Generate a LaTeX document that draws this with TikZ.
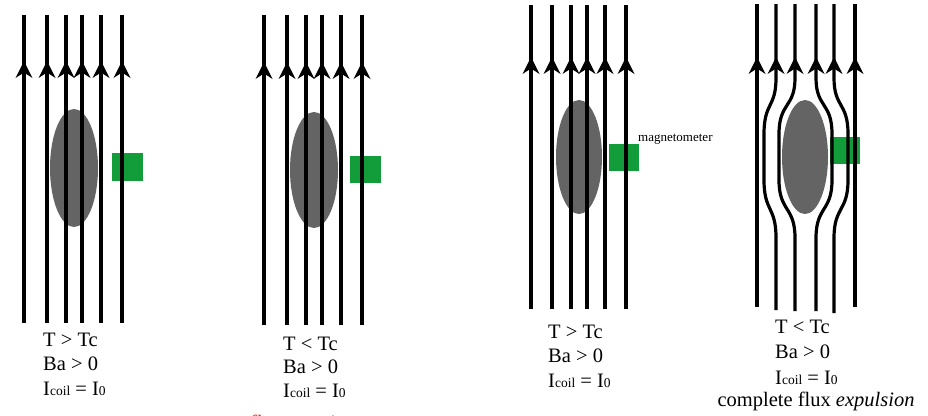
\documentclass[tikz,border=0pt]{standalone}
\usepackage{fontspec}
\setmainfont{Liberation Serif}
\definecolor{blob}{RGB}{100,100,100}
\definecolor{sensor}{RGB}{18,156,58}
\definecolor{redtxt}{RGB}{225,35,35}
\newcommand\fluxhead[2]{\fill[black] (#1,#2) -- ++(8.5,17) -- ++(-8.5,-5.5) -- ++(-8.5,5.5) -- cycle;}
\newcommand\subsm[1]{{\fontsize{13.5}{13.5}\selectfont\raisebox{-0.8pt}{#1}}}
\newcommand\Icoil{I\subsm{coil} = I\subsm{0}}
\begin{document}
\begin{tikzpicture}[x=1pt,y=-1pt,
  fieldline/.style={line width=3.2pt,black},
  lab/.style={anchor=base west,inner sep=0pt,font=\fontsize{20.5}{24}\selectfont}]
\useasboundingbox (0,0) rectangle (928,415);
\clip (0,0) rectangle (928,415);

% ---------- panel 1 ----------
\fill[blob] (74,168) ellipse [x radius=24, y radius=59];
\fill[sensor] (112,153) rectangle (143,181);
\foreach \x in {24,47,66,82,101,122} {
  \draw[fieldline] (\x,15) -- (\x,323);
  \fluxhead{\x}{61}
}
\node[lab] (p1a) at (43,346) {T > Tc};
\node[lab] (p1b) at (43,370) {Ba > 0};
\node[lab] (p1c) at (43,395) {\Icoil};

% ---------- panel 2 ----------
\fill[blob] (314,170) ellipse [x radius=24, y radius=58];
\fill[sensor] (350,156) rectangle (381,183);
\foreach \x in {264,287,306,322,341,362} {
  \draw[fieldline] (\x,15) -- (\x,325);
  \fluxhead{\x}{62}
}
\node[lab] (p2a) at (283,350) {T < Tc};
\node[lab] (p2b) at (283,373) {Ba > 0};
\node[lab] (p2c) at (283,397) {\Icoil};
\node[lab,text=redtxt] (p2d) at (250,429) {flux trapping};

% ---------- panel 3 ----------
\fill[blob] (579,157) ellipse [x radius=23, y radius=57];
\fill[sensor] (609,144) rectangle (639,171);
\foreach \x in {531,552,571,587,605,626} {
  \draw[fieldline] (\x,5) -- (\x,309);
  \fluxhead{\x}{57}
}
\node[anchor=west,inner sep=0pt,font=\fontsize{13}{13}\selectfont] (mag) at (638,139) {magnetometer};
\node[lab] (p3a) at (548,338) {T > Tc};
\node[lab] (p3b) at (548,362) {Ba > 0};
\node[lab] (p3c) at (548,387) {\Icoil};

% ---------- panel 4 ----------
\fill[blob] (805,157) ellipse [x radius=23, y radius=57];
\fill[sensor] (830,137) rectangle (860,164);
\foreach \x in {757,855} {
  \draw[fieldline] (\x,4) -- (\x,307);
  \fluxhead{\x}{57}
}
\foreach \a/\b/\e in {776/764/310, 795/779/311, 816/832/311, 834/848/313} {
  \draw[fieldline] (\a,4) -- (\a,78) .. controls (\a,108) and (\b,102) .. (\b,134)
     -- (\b,180) .. controls (\b,212) and (\a,206) .. (\a,238) -- (\a,\e);
  \fluxhead{\a}{57}
}
\node[lab] (p4a) at (775,333) {T < Tc};
\node[lab] (p4b) at (775,358) {Ba > 0};
\node[lab] (p4c) at (775,384) {\Icoil};
\node[anchor=base,inner sep=0pt,font=\fontsize{20.5}{24}\selectfont] (p4d) at (816,406) {complete flux \textit{expulsion}};
\end{tikzpicture}
\end{document}
